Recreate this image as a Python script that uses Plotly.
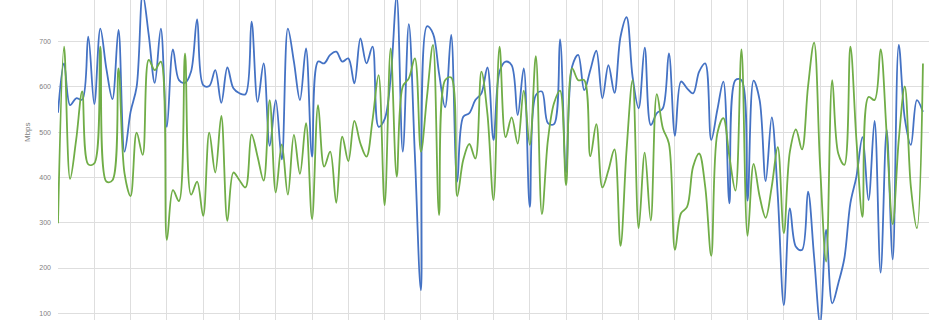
import plotly.graph_objects as go

blue = [543, 652, 560, 575, 572, 711, 562, 729, 640, 573, 726, 457, 545, 600, 805, 715,
        609, 729, 512, 683, 615, 609, 634, 749, 604, 602, 637, 565, 643, 597, 586, 584,
        744, 567, 652, 470, 571, 440, 729, 656, 571, 685, 446, 656, 652, 671, 678, 656,
        663, 608, 707, 652, 689, 512, 529, 620, 800, 457, 739, 450, 151, 734, 718, 630,
        555, 715, 391, 534, 542, 571, 586, 643, 483, 634, 656, 648, 538, 641, 335, 582,
        590, 520, 518, 705, 411, 645, 671, 593, 637, 680, 575, 648, 587, 711, 754, 622,
        553, 687, 516, 542, 553, 674, 492, 612, 597, 586, 634, 652, 483, 549, 612, 343,
        615, 615, 349, 614, 571, 392, 533, 360, 118, 332, 247, 240, 369, 225, 78, 285,
        122, 166, 221, 343, 402, 489, 350, 525, 190, 505, 219, 693, 530, 472, 571, 545]

green = [299, 689, 397, 483, 590, 429, 431, 689, 391, 394, 641, 409, 359, 499, 450, 660,
         637, 656, 262, 372, 348, 674, 362, 391, 315, 499, 411, 536, 304, 411, 394, 378,
         495, 446, 393, 571, 367, 473, 362, 494, 408, 520, 308, 560, 424, 457, 344, 490,
         436, 525, 475, 446, 527, 626, 339, 685, 402, 601, 619, 663, 457, 578, 693, 317,
         615, 621, 359, 439, 474, 442, 634, 540, 350, 689, 489, 533, 475, 592, 472, 668,
         319, 483, 564, 592, 383, 641, 615, 615, 447, 518, 378, 416, 462, 249, 461, 615,
         288, 455, 305, 584, 509, 475, 240, 321, 335, 424, 453, 380, 227, 497, 531, 446,
         371, 683, 271, 430, 358, 311, 380, 467, 277, 457, 506, 462, 601, 698, 424, 214,
         615, 453, 428, 689, 483, 313, 578, 571, 683, 497, 297, 483, 601, 380, 288, 652]

y_ticks = [100, 200, 300, 400, 500, 600, 700, 800]
y_title = "Mbps"

x = list(range(len(blue)))

fig = go.Figure()
fig.add_trace(go.Scatter(x=x, y=blue, mode="lines", name="Series 1",
                         line=dict(color="#4472C4", width=1.8, shape="spline", smoothing=1.0)))
fig.add_trace(go.Scatter(x=x, y=green, mode="lines", name="Series 2",
                         line=dict(color="#70AD47", width=1.8, shape="spline", smoothing=1.0)))

fig.update_layout(
    width=950, height=320,
    margin=dict(l=58, r=21, t=0, b=0),
    paper_bgcolor="white", plot_bgcolor="white",
    showlegend=False,
    xaxis=dict(range=[0, 144], tick0=0, dtick=6, showgrid=True, gridcolor="#dedede",
               gridwidth=1, showticklabels=False, zeroline=False, showline=False, ticks=""),
    yaxis=dict(range=[85.2, 792.1], tickvals=y_ticks, showgrid=True, gridcolor="#dedede",
               gridwidth=1, zeroline=False, showline=False, ticks="",
               tickfont=dict(family="Liberation Sans, Arial", size=7, color="#808080"),
               ticklabelstandoff=6),
    annotations=[dict(text=y_title, x=(27 - 58) / 871, y=1 - 132 / 320,
                      xref="paper", yref="paper", xanchor="center", yanchor="middle",
                      showarrow=False, textangle=-90,
                      font=dict(family="Liberation Sans, Arial", size=8, color="#808080"))],
)

fig.write_html("out.html")
